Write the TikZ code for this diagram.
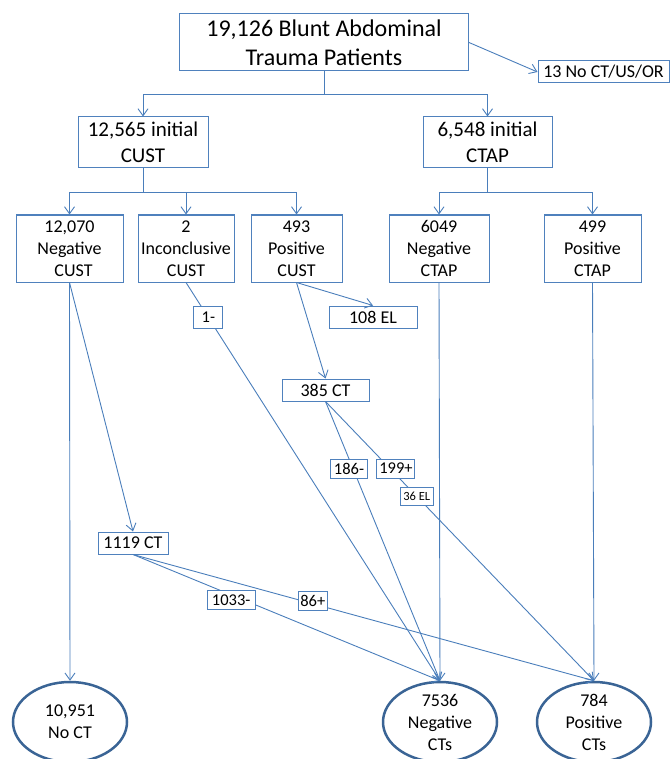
\documentclass[tikz,border=0pt]{standalone}
\usepackage{fontspec}
\setmainfont{Carlito}
\usetikzlibrary{arrows.meta,shapes.geometric}
\definecolor{boxc}{HTML}{4F81BD}
\definecolor{linec}{HTML}{4A7EBB}
\definecolor{ellc}{HTML}{3A6495}
\begin{document}
\begin{tikzpicture}[x=1pt,y=-1pt,
  box/.style={draw=boxc, line width=1pt, fill=white, inner sep=0pt, align=center},
  big/.style={font=\fontsize{24}{29}\selectfont},
  mid/.style={font=\fontsize{21}{26}\selectfont},
  std/.style={font=\fontsize{18}{22}\selectfont},
  sml/.style={font=\fontsize{16.5}{19}\selectfont},
  tny/.style={font=\fontsize{12.5}{14}\selectfont},
  conn/.style={draw=linec, line width=0.9pt},
  arr/.style={conn, -{Straight Barb[length=7pt,width=10pt]}},
  oval/.style={draw=ellc, line width=2.5pt, ellipse, fill=white, minimum width=114pt, minimum height=80pt, inner sep=0pt},
  lbl/.style={box, minimum height=19pt}
]
\useasboundingbox (0,0) rectangle (670,759);
% boxes
\node[box,big,minimum width=289pt,minimum height=57pt] (top) at (324,42.5) {19,126 Blunt Abdominal\\Trauma Patients};
\node[box,std,minimum width=131pt,minimum height=22pt] (noct) at (603.5,72) {13 No CT/US/OR};
\node[box,mid,minimum width=130pt,minimum height=51pt] (cust) at (143,142.5) {12,565 initial\\CUST};
\node[box,mid,minimum width=129pt,minimum height=51pt] (ctap) at (487.5,142.5) {6,548 initial\\CTAP};
\node[box,std,minimum width=107pt,minimum height=67pt] (negcust) at (69.5,248.5) {12,070\\Negative\\\hspace*{8pt}CUST};
\node[box,std,minimum width=96pt,minimum height=67pt] (inc) at (186,248.5) {2\\Inconclusive\\CUST};
\node[box,std,minimum width=91pt,minimum height=67pt] (poscust) at (296.5,248.5) {493\\Positive\\CUST};
\node[box,std,minimum width=100pt,minimum height=67pt] (negctap) at (439,248.5) {6049\\Negative\\CTAP};
\node[box,std,minimum width=97pt,minimum height=67pt] (posctap) at (592.5,248.5) {499\\Positive\\CTAP};
\node[box,std,minimum width=88pt,minimum height=22pt] (el108) at (373,317) {108 EL};
\node[box,std,minimum width=87pt,minimum height=22pt] (ct385) at (325.5,390) {385 CT};
\node[box,std,minimum width=70pt,minimum height=22pt] (ct1119) at (133,543) {1119 CT};
% outcome ellipses
\node[oval] (nocte) at (70,722) {};
\node[std,align=center] (nocttxt) at (nocte.center) {10,951\\No CT};
\node[oval] (negct) at (440,722) {};
\node[std,align=center] (negcttxt) at (negct.center) {7536\\Negative\\CTs};
\node[oval] (posct) at (594,722) {};
\node[std,align=center] (poscttxt) at (posct.center) {784\\Positive\\CTs};
% connectors
\draw[arr] (top.east) -- (noct.west);
\draw[arr] (top.south) -- ++(0,23) -| (cust.north);
\draw[arr] (top.south) -- ++(0,23) -| (ctap.north);
\draw[arr] (cust.south) -- ++(0,24) -| (negcust.north);
\draw[arr] (cust.south) -- ++(0,24) -| (inc.north);
\draw[arr] (cust.south) -- ++(0,24) -| (poscust.north);
\draw[arr] (ctap.south) -- ++(0,24) -| (negctap.north);
\draw[arr] (ctap.south) -- ++(0,24) -| (posctap.north);
\draw[arr] (poscust.south) -- (el108.north);
\draw[arr] (poscust.south) -- (ct385.north);
\draw[arr] (negcust.south) -- (nocte.north);
\draw[arr] (negcust.south) -- (ct1119.north);
\draw[arr] (negctap.south) -- (negct.north);
\draw[arr] (posctap.south) -- (posct.north);
\draw[arr] (inc.south) -- node[box,sml,minimum width=29pt,minimum height=22pt,pos=0.088] (l1) {1-} (negct.north);
\draw[arr] (ct385.south) -- node[lbl,sml,minimum width=37pt,pos=0.24,xshift=-4pt] (l186) {186-} (negct.north);
\draw[arr] (ct385.south) -- node[lbl,sml,minimum width=38pt,pos=0.24,xshift=6pt] (l199) {199+}
  node[box,tny,minimum width=33pt,minimum height=18pt,pos=0.34] (l36) {36 EL} (posct.north);
\draw[arr] (ct1119.south) -- node[lbl,sml,minimum width=48pt,pos=0.32,yshift=-5pt] (l1033) {1033-} (negct.north);
\draw[arr] (ct1119.south) -- node[lbl,sml,minimum width=29pt,pos=0.39,yshift=3pt] (l86) {86+} (posct.north);
\end{tikzpicture}
\end{document}
